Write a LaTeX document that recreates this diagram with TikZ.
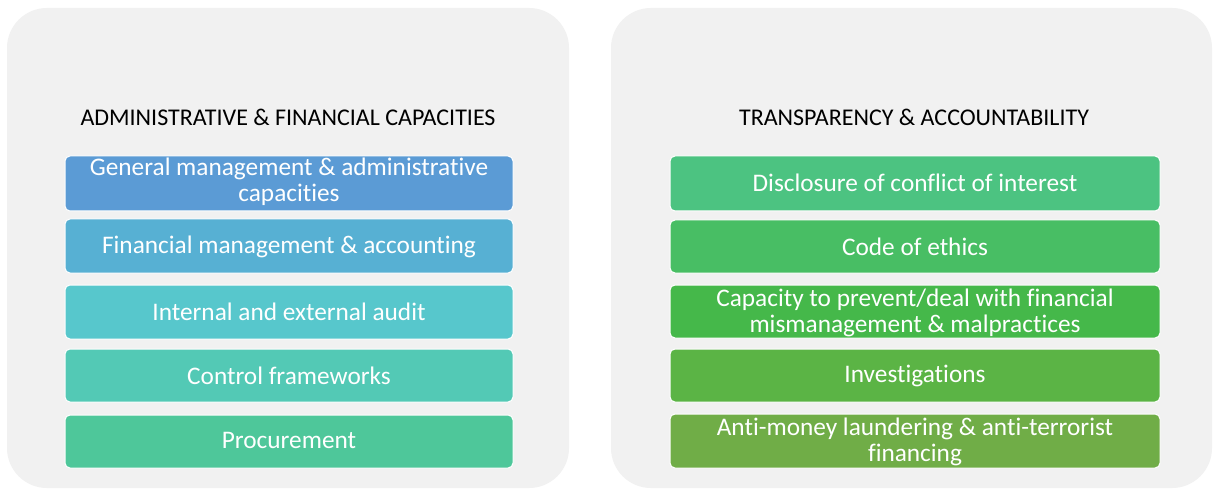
\documentclass[tikz,border=0pt]{standalone}
\usepackage{fontspec}
\setmainfont{Carlito}[Ligatures={NoCommon}]
\definecolor{panelbg}{HTML}{F1F1F1}
\definecolor{cA}{HTML}{5B9BD5}
\definecolor{cB}{HTML}{57B0D3}
\definecolor{cC}{HTML}{57C7CC}
\definecolor{cD}{HTML}{53C9B5}
\definecolor{cE}{HTML}{4EC79A}
\definecolor{cF}{HTML}{4CC381}
\definecolor{cG}{HTML}{48BE64}
\definecolor{cH}{HTML}{45B84A}
\definecolor{cI}{HTML}{5BB445}
\definecolor{cJ}{HTML}{70AD47}
\tikzset{
  panel/.style={fill=panelbg, draw=none, rounded corners=40pt},
  itembox/.style={draw=white, line width=1pt, rounded corners=5pt, text=white,
    font=\fontsize{25.3}{26}\selectfont, align=center, inner sep=0pt},
  paneltitle/.style={font=\fontsize{24}{26}\selectfont, text=black, inner sep=0pt}
}
\begin{document}
\begin{tikzpicture}[x=1pt,y=-1pt]
\useasboundingbox (0,0) rectangle (1213,489);
\fill[white] (0,0) rectangle (1213,489);
\path[panel] (7,8) rectangle (569,488);
\path[panel] (611,8) rectangle (1212,488);
\node[paneltitle] (t1) at (288,117) {ADMINISTRATIVE \& FINANCIAL CAPACITIES};
\node[paneltitle] (t2) at (914,117) {TRANSPARENCY \& ACCOUNTABILITY};
% left column
\path[itembox, fill=cA] (65,156) rectangle (513,211);
\node[itembox, draw=none, fill=none] (l1) at (289,182) {General management \& administrative\\capacities};
\path[itembox, fill=cB] (65,219) rectangle (513,273);
\node[itembox, draw=none, fill=none] (l2) at (289,246.5) {Financial management \& accounting};
\path[itembox, fill=cC] (65,285) rectangle (513,339);
\node[itembox, draw=none, fill=none] (l3) at (289,311.5) {Internal and external audit};
\path[itembox, fill=cD] (65,349) rectangle (513,402);
\node[itembox, draw=none, fill=none] (l4) at (289,376) {Control frameworks};
\path[itembox, fill=cE] (65,415) rectangle (513,468);
\node[itembox, draw=none, fill=none] (l5) at (289,440) {Procurement};
% right column
\path[itembox, fill=cF] (670,156) rectangle (1160,211);
\node[itembox, draw=none, fill=none] (r1) at (915,182.5) {Disclosure of conflict of interest};
\path[itembox, fill=cG] (670,220) rectangle (1160,273);
\node[itembox, draw=none, fill=none] (r2) at (915,247) {Code of ethics};
\path[itembox, fill=cH] (670,285) rectangle (1160,338);
\node[itembox, draw=none, fill=none] (r3) at (915,313) {Capacity to prevent/deal with financial\\mismanagement \& malpractices};
\path[itembox, fill=cI] (670,349) rectangle (1160,402);
\node[itembox, draw=none, fill=none] (r4) at (915,376) {Investigations};
\path[itembox, fill=cJ] (670,414) rectangle (1160,468);
\node[itembox, draw=none, fill=none] (r5) at (915,441.5) {Anti-money laundering \& anti-terrorist\\financing};
\end{tikzpicture}
\end{document}
